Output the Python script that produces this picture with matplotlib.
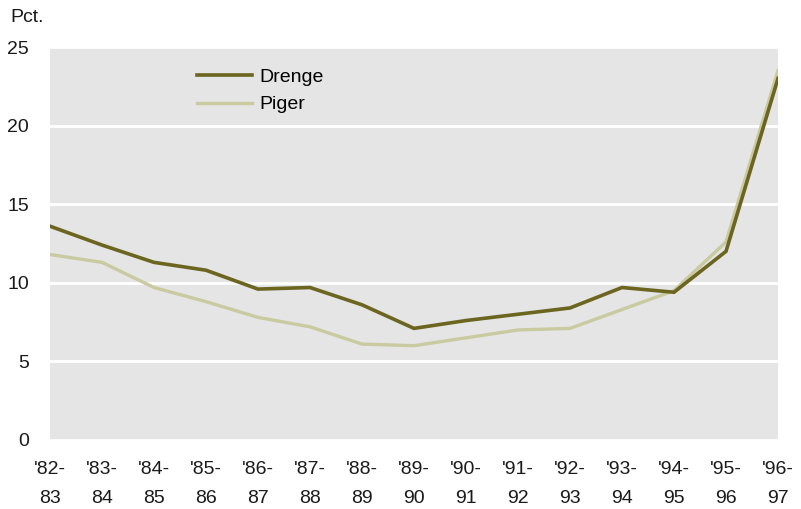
import matplotlib
matplotlib.use("Agg")
import matplotlib.pyplot as plt

# school years, '82-83 .. '96-97
years = ["'82-\n83", "'83-\n84", "'84-\n85", "'85-\n86", "'86-\n87",
         "'87-\n88", "'88-\n89", "'89-\n90", "'90-\n91", "'91-\n92",
         "'92-\n93", "'93-\n94", "'94-\n95", "'95-\n96", "'96-\n97"]

drenge = [13.6, 12.4, 11.3, 10.8, 9.6, 9.7, 8.6, 7.1, 7.6, 8.0, 8.4, 9.7, 9.4, 12.0, 23.0]
piger = [11.8, 11.3, 9.7, 8.8, 7.8, 7.2, 6.1, 6.0, 6.5, 7.0, 7.1, 8.3, 9.5, 12.6, 23.5]

yticks = [0, 5, 10, 15, 20, 25]

COLOR_DRENGE = "#6b6520"
COLOR_PIGER = "#c9caa0"
BG = "#e5e5e5"

plt.rcParams["font.family"] = "Liberation Sans"

fig = plt.figure(figsize=(8.01, 5.09), dpi=100)
ax = fig.add_axes([50 / 801, 1 - 440 / 509, 728 / 801, 393 / 509])
ax.set_facecolor(BG)

x = list(range(len(years)))
ax.plot(x, piger, color=COLOR_PIGER, lw=2.4, label="Piger", solid_joinstyle="miter")
ax.plot(x, drenge, color=COLOR_DRENGE, lw=2.6, label="Drenge", solid_joinstyle="miter")

ax.set_xlim(0, len(years) - 1)
ax.set_ylim(0, 25)
ax.set_yticks(yticks)
ax.set_xticks(x)
ax.set_xticklabels(years, linespacing=1.9)
ax.tick_params(axis="both", length=0, labelsize=14, colors="#1a1a1a")
ax.tick_params(axis="y", pad=15)
ax.tick_params(axis="x", pad=15)

ax.grid(axis="y", color="white", lw=2)
ax.set_axisbelow(True)
for s in ax.spines.values():
    s.set_visible(False)

# legend: Drenge first
handles, labels = ax.get_legend_handles_labels()
leg = ax.legend(handles[::-1], labels[::-1], loc="upper left",
                bbox_to_anchor=(0.178, 0.99), frameon=False, fontsize=14,
                handlelength=2.8, handletextpad=0.4, labelspacing=0.5)

fig.text(10 / 801, 1 - 18 / 509, "Pct.", fontsize=14, va="center", ha="left", color="#1a1a1a")

fig.savefig("out.png", dpi=100)
